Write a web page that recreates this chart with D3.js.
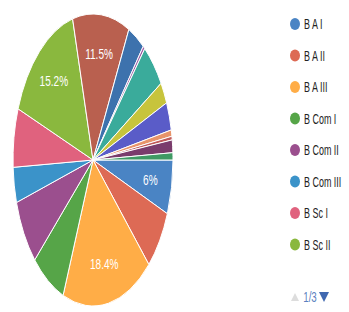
<!DOCTYPE html>
<html>
<head>
<meta charset="utf-8">
<script src="https://cdnjs.cloudflare.com/ajax/libs/d3/7.8.5/d3.min.js"></script>
<style>
  body { margin: 0; background: #fff; }
  svg { display: block; font-family: Arial, "Liberation Sans", sans-serif; }
</style>
</head>
<body>
<svg id="chart" width="349" height="312"></svg>
<script>
// slices, clockwise starting at 3 o'clock
const categories = ["B A I", "B A II", "B A III", "B Com I", "B Com II", "B Com III", "B Sc I", "B Sc II",
                    "B Sc III", "BBA I", "BBA II", "BBA III", "BCA I", "BCA II", "BCA III", "M Com I", "M Com II", "M Sc I"]
const values = [6.0, 6.7, 18.4, 6.9, 7.3, 3.9, 6.5, 15.2,
                11.5, 3.4, 0.4, 5.0, 2.4, 3.1, 0.7, 0.4, 1.4, 0.8]
const colors = ["#4a84c4", "#dd6a55", "#ffad47", "#56a548", "#9b4f8e", "#3b93c9", "#e0627e", "#8ab83e",
                "#b9604f", "#3d72ad", "#9a5ea6", "#3aab9b", "#c7c43c", "#5a5cc8", "#e8946a", "#c05a5a", "#7a3c6c", "#3f9a64"]
// only these slices got a label in the picture
const shownLabels = ["B A I", "B A III", "B Sc II", "B Sc III"]
const pageNo = 1, pageCount = 3, perPage = 8

const svg = d3.select('#chart')
svg.append('rect').attr('width', 349).attr('height', 312).attr('fill', '#fff')

const cx = 93, cy = 160, rx = 80, ry = 146
const R = ry

const pie = d3.pie()
    .sort(null)
    .value(d => d)
    .startAngle(Math.PI / 2)
    .endAngle(Math.PI / 2 + 2 * Math.PI)

const arcs = pie(values)
const arc = d3.arc().innerRadius(0).outerRadius(R)
const labelArc = d3.arc().innerRadius(R * 0.73).outerRadius(R * 0.73)

// picture is squeezed sideways, so draw a circle and scale x
const g = svg.append('g')
    .attr('transform', `translate(${cx},${cy}) scale(${rx / R},1)`)

g.selectAll('path')
    .data(arcs)
    .enter()
    .append('path')
    .attr('d', arc)
    .attr('fill', (d, i) => colors[i])
    .attr('stroke', '#fff')
    .attr('stroke-width', 1)
    .attr('vector-effect', 'non-scaling-stroke')

svg.selectAll('.lbl')
    .data(arcs.filter((d, i) => shownLabels.includes(categories[i])))
    .enter()
    .append('text')
    .attr('class', 'lbl')
    .attr('transform', d => {
        const c = labelArc.centroid(d)
        return `translate(${cx + c[0] * rx / R},${cy + c[1]}) scale(0.72,1)`
    })
    .attr('text-anchor', 'middle')
    .attr('dominant-baseline', 'central')
    .attr('font-size', 14)
    .attr('fill', '#fff')
    .text(d => (+d.value.toFixed(1)) + '%')

// legend, first page
const legendX = 295, legendY = 24, rowH = 31.5
const items = categories.slice((pageNo - 1) * perPage, pageNo * perPage)

const leg = svg.selectAll('.leg')
    .data(items)
    .enter()
    .append('g')
    .attr('class', 'leg')
    .attr('transform', (d, i) => `translate(${legendX},${legendY + i * rowH})`)

leg.append('ellipse')
    .attr('rx', 5)
    .attr('ry', 6)
    .attr('fill', (d, i) => colors[i])

leg.append('text')
    .attr('transform', 'translate(9,0) scale(0.64,1)')
    .attr('dominant-baseline', 'central')
    .attr('font-size', 14)
    .attr('fill', '#222')
    .text(d => d)

// pager
const pager = svg.append('g').attr('transform', `translate(${legendX},297)`)
pager.append('path')
    .attr('d', 'M -4,4 L 0,-4 L 4,4 Z')
    .attr('fill', '#ddd')
pager.append('text')
    .attr('transform', 'translate(15,0) scale(0.7,1)')
    .attr('text-anchor', 'middle')
    .attr('dominant-baseline', 'central')
    .attr('font-size', 14)
    .attr('fill', '#5b7fc0')
    .text(pageNo + '/' + pageCount)
pager.append('path')
    .attr('d', 'M 24,-5 L 34,-5 L 29,5 Z')
    .attr('fill', '#4068b0')
</script>
</body>
</html>
